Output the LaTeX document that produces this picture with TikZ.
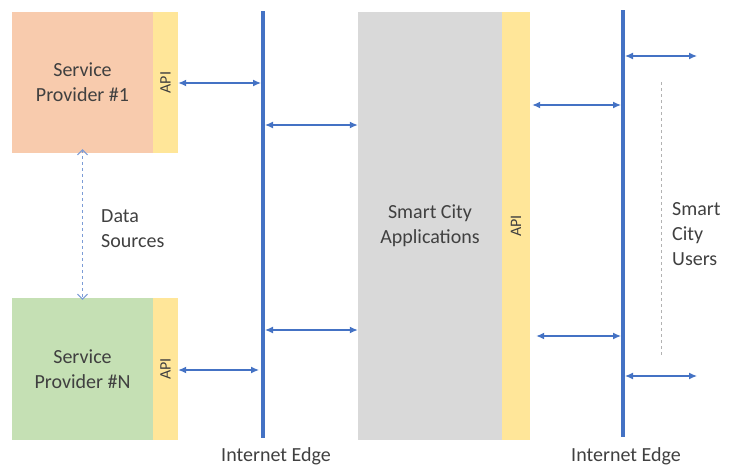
\documentclass[tikz,border=0pt]{standalone}
\usepackage{fontspec}
\setmainfont{Carlito}
\usetikzlibrary{arrows.meta}
\definecolor{edgeblue}{HTML}{4472C4}
\definecolor{salmon}{HTML}{F8CBAD}
\definecolor{sgreen}{HTML}{C5E0B4}
\definecolor{sgray}{HTML}{D9D9D9}
\definecolor{apiyel}{HTML}{FFE699}
\definecolor{txt}{HTML}{404040}
\tikzset{
  box/.style={draw=none, inner sep=0pt, align=center, text=txt, font=\fontsize{20}{25}\selectfont},
  api/.style={fill=apiyel, draw=none, inner sep=0pt, minimum width=25, text=txt, font=\fontsize{16}{18}\selectfont},
  edge/.style={draw=edgeblue, line width=3.5pt},
  link/.style={draw=edgeblue, line width=1.3pt, {Latex[length=8pt,width=7pt]}-{Latex[length=8pt,width=7pt]}},
  lbl/.style={text=txt, font=\fontsize{20}{25}\selectfont, align=left, inner sep=0pt},
}
\begin{document}
\begin{tikzpicture}[x=1pt,y=-1pt]
\useasboundingbox (0,0) rectangle (729,471);
% service providers
\node[box, fill=salmon, minimum width=141, minimum height=141] (sp1) at (82.5,82.5) {Service\\Provider \#1};
\node[api, minimum height=141] (api1) at (165.5,82.5) {\rotatebox{90}{API}};
\node[box, fill=sgreen, minimum width=141, minimum height=142] (spn) at (82.5,369) {Service\\Provider \#N};
\node[api, minimum height=142] (apin) at (165.5,369) {\rotatebox{90}{API}};
% data sources
\draw[draw=edgeblue!70, line width=1pt, dashed, {Straight Barb[length=5pt,width=10pt]}-{Straight Barb[length=5pt,width=10pt]}] ([yshift=4]sp1.south) -- ([yshift=-2]spn.north);
\node[lbl, anchor=west] (ds) at (101,229) {Data\\Sources};
% smart city applications
\node[box, fill=sgray, minimum width=144, minimum height=428] (app) at (430,226) {Smart City\\Applications};
\node[api, minimum width=28, minimum height=428] (apiapp) at (516,226) {\rotatebox{90}{API}};
% internet edges
\coordinate (e1t) at (263,11);
\coordinate (e1b) at (263,438);
\coordinate (e2t) at (623,10);
\coordinate (e2b) at (623,437);
\draw[edge] (e1t) -- (e1b);
\draw[edge] (e2t) -- (e2b);
\node[lbl] (ie1) at (276,456) {Internet Edge};
\node[lbl] (ie2) at (626,456) {Internet Edge};
% links left
\coordinate (l1) at (261,83);
\coordinate (l2) at (259,370);
\coordinate (l3) at (265,125);
\coordinate (l4) at (265,330);
\draw[link] (api1.east |- l1) -- (l1);
\draw[link] (apin.east |- l2) -- (l2);
\draw[link] (l3) -- (app.west |- l3);
\draw[link] (l4) -- (app.west |- l4);
% links right
\coordinate (r1) at (621,105);
\coordinate (r2) at (621,336);
\draw[link] ([xshift=2]apiapp.east |- r1) -- (r1);
\draw[link] ([xshift=6]apiapp.east |- r2) -- (r2);
% users
\coordinate (u1a) at (625,56);
\coordinate (u1b) at (697,56);
\coordinate (u2a) at (625,376);
\coordinate (u2b) at (697,376);
\draw[link] (u1a) -- (u1b);
\draw[link] (u2a) -- (u2b);
\coordinate (dt) at (661,82);
\coordinate (db) at (661,356);
\draw[draw=gray!60, line width=1pt, dashed] (dt) -- (db);
\node[lbl, anchor=west] (users) at (672,234) {Smart\\City\\Users};
\end{tikzpicture}
\end{document}
